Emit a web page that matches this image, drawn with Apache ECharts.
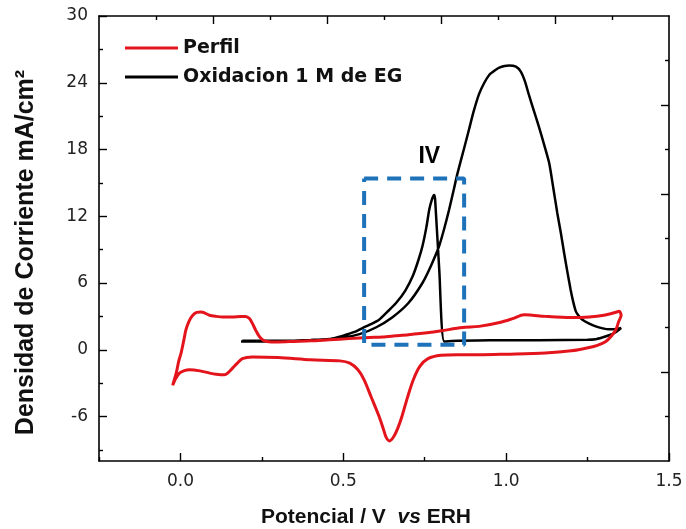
<!DOCTYPE html>
<html>
<head>
<meta charset="utf-8">
<script src="https://cdn.jsdelivr.net/npm/echarts@6/dist/echarts.min.js"></script>
<style>html,body{margin:0;padding:0;background:#fff;}#c{width:686px;height:529px;}</style>
</head>
<body>
<div id="c"></div>
<script>
// ---- data ----
const seriesNames = ['Perfil', 'Oxidacion 1 M de EG'];
const perfil = [
  [-0.024,-3.2],[-0.013,-2.1],[-0.005,-1.0],[0.002,-0.3],[0.01,0.8],[0.017,1.8],[0.027,2.6],[0.038,3.1],
  [0.05,3.35],[0.063,3.4],[0.075,3.3],[0.089,3.1],[0.11,3.0],[0.13,2.95],[0.16,2.95],[0.185,3.0],[0.2,3.0],
  [0.212,2.8],[0.222,2.3],[0.232,1.7],[0.242,1.2],[0.252,0.9],[0.265,0.75],[0.3,0.7],[0.35,0.75],[0.4,0.8],
  [0.457,0.9],[0.518,1.0],[0.58,1.1],[0.62,1.15],[0.66,1.25],[0.7,1.35],[0.764,1.55],[0.8,1.7],[0.866,2.0],
  [0.917,2.1],[0.98,2.45],[1.02,2.8],[1.055,3.15],[1.08,3.1],[1.12,3.0],[1.2,2.9],[1.255,2.95],[1.3,3.1],
  [1.335,3.35],[1.347,3.45],[1.353,3.1],[1.345,2.5],[1.337,1.8],[1.322,1.2],[1.306,0.75],[1.28,0.4],
  [1.255,0.2],[1.2,-0.1],[1.12,-0.3],[1.0,-0.4],[0.917,-0.45],[0.85,-0.45],[0.8,-0.5],[0.76,-0.8],
  [0.735,-1.5],[0.715,-2.7],[0.697,-4.3],[0.68,-6.0],[0.668,-7.0],[0.655,-7.8],[0.642,-8.2],[0.632,-7.9],
  [0.625,-7.3],[0.61,-6.0],[0.585,-4.2],[0.564,-2.7],[0.545,-1.8],[0.52,-1.2],[0.49,-1.0],[0.4,-0.9],
  [0.3,-0.7],[0.22,-0.65],[0.19,-0.8],[0.175,-1.2],[0.16,-1.65],[0.145,-2.1],[0.135,-2.25],[0.11,-2.2],
  [0.09,-2.1],[0.06,-1.9],[0.028,-1.8],[0.01,-1.9],[-0.003,-2.1],[-0.015,-2.6],[-0.024,-3.2]
];
const oxidacion = [
  [0.186,0.75],[0.25,0.75],[0.3,0.78],[0.35,0.82],[0.4,0.88],[0.45,0.95],[0.5,1.1],[0.55,1.4],[0.6,2.0],
  [0.65,2.9],[0.7,4.2],[0.743,6.0],[0.77,7.6],[0.794,9.3],[0.81,10.9],[0.825,12.6],[0.84,14.5],[0.851,15.9],
  [0.87,18.0],[0.886,19.8],[0.9,21.4],[0.917,23.0],[0.933,24.0],[0.948,24.7],[0.965,25.1],[0.979,25.35],
  [0.995,25.5],[1.009,25.55],[1.03,25.45],[1.045,25.0],[1.058,24.1],[1.07,22.9],[1.085,21.5],[1.1,20.1],
  [1.115,18.6],[1.132,16.8],[1.145,14.5],[1.157,12.3],[1.168,10.5],[1.178,8.7],[1.188,7.0],[1.198,5.4],
  [1.206,4.3],[1.214,3.45],[1.224,3.0],[1.234,2.7],[1.255,2.35],[1.275,2.1],[1.3,1.9],[1.316,1.85],
  [1.335,1.85],[1.353,1.95],[1.335,1.55],[1.316,1.3],[1.295,1.1],[1.275,0.95],[1.25,0.9],[1.1,0.85],
  [0.95,0.85],[0.85,0.8],[0.81,0.75],[0.795,7.0],[0.782,13.5],[0.779,13.9],[0.772,13.5],[0.764,12.6],
  [0.755,11.0],[0.743,9.3],[0.73,8.0],[0.713,6.6],[0.69,5.3],[0.662,4.2],[0.635,3.4],[0.61,2.7],
  [0.585,2.3],[0.559,1.95],[0.535,1.6],[0.508,1.35],[0.48,1.1],[0.457,0.95],[0.4,0.85],[0.3,0.8],[0.19,0.8]
];
const boxCorners = [[0.564,15.4],[0.871,15.4],[0.871,0.45],[0.564,0.45],[0.564,15.4]];
const boxLabel = [[0.764,17.4]];
const xRange = [-0.25, 1.5];
const yRange = [-10, 30];
const xMajor = [0, 0.5, 1.0, 1.5];
const xMinor = [-0.25, 0.25, 0.75, 1.25];
const yMajor = [-6, 0, 6, 12, 18, 24, 30];
const yMinor = [-9, -3, 3, 9, 15, 21, 27];
const topMajor = [0.1, 0.45, 0.8, 1.15];
const topMinor = [-0.075, 0.275, 0.625, 0.975, 1.325];
const rightMajor = [-2, 6, 14, 22];
const rightMinor = [-6, 2, 10, 18, 26];

// ---- chart ----
const FONT = '"Liberation Sans", Arial, sans-serif';
const WIDE = '"DejaVu Sans", sans-serif';
const gridRect = {left: 99, right: 17, top: 16, bottom: 68, outerBoundsMode: 'none', containLabel: false};
const lineAx = {show: true, onZero: false, lineStyle: {color: '#000', width: 1.6}};
const noLine = {show: false, onZero: false};
function xAx(gi, pos, ticks, len, labels, showLine) {
  return {
    type: 'value', gridIndex: gi, position: pos, min: xRange[0], max: xRange[1],
    axisLine: showLine ? lineAx : noLine,
    axisTick: {show: true, inside: true, length: len, customValues: ticks, lineStyle: {color: '#000', width: 1.4}},
    axisLabel: labels ? {show: true, customValues: labels, formatter: v => v.toFixed(1), color: '#222',
      fontSize: 17, fontFamily: WIDE, margin: 12} : {show: false},
    splitLine: {show: false}
  };
}
function yAx(gi, pos, ticks, len, labels, showLine) {
  return {
    type: 'value', gridIndex: gi, position: pos, min: yRange[0], max: yRange[1],
    axisLine: showLine ? lineAx : noLine,
    axisTick: {show: true, inside: true, length: len, customValues: ticks, lineStyle: {color: '#000', width: 1.4}},
    axisLabel: labels ? {show: true, customValues: labels, color: '#222', fontSize: 17, fontFamily: WIDE, margin: 11} : {show: false},
    splitLine: {show: false}
  };
}
const xMain = xAx(0, 'bottom', xMajor, 8, xMajor, true);
xMain.name = '{b|Potencial / V  }{i|vs}{b| ERH}';
xMain.nameLocation = 'middle';
xMain.nameGap = 46;
xMain.nameTextStyle = {padding: [0, 36, 0, 0], rich: {
  b: {fontSize: 21, fontWeight: 'bold', fontFamily: FONT, color: '#111'},
  i: {fontSize: 21, fontWeight: 'bold', fontStyle: 'italic', fontFamily: FONT, color: '#111'}
}};
const yMain = yAx(0, 'left', yMajor, 8, yMajor, true);
yMain.name = 'Densidad de Corriente mA/cm²';
yMain.nameLocation = 'middle';
yMain.nameGap = 60;
yMain.nameTextStyle = {fontSize: 25, fontWeight: 'bold', fontFamily: FONT, color: '#111', padding: [0, 28, 0, 0]};

const option = {
  animation: false,
  backgroundColor: '#fff',
  grid: [Object.assign({}, gridRect), Object.assign({}, gridRect)],
  xAxis: [
    xMain,
    xAx(0, 'top', topMajor, 8, null, true),
    xAx(1, 'bottom', xMinor, 4, null, false),
    xAx(1, 'top', topMinor, 4, null, false)
  ],
  yAxis: [
    yMain,
    yAx(0, 'right', rightMajor, 8, null, true),
    yAx(1, 'left', yMinor, 4, null, false),
    yAx(1, 'right', rightMinor, 4, null, false)
  ],
  legend: {
    data: seriesNames.map(n => ({name: n, icon: 'rect'})), orient: 'vertical', left: 125, top: 38, padding: 0,
    itemWidth: 53, itemHeight: 3, itemGap: 9,
    textStyle: {fontSize: 19, fontWeight: 'bold', fontFamily: WIDE, color: '#111', lineHeight: 20},
    selectedMode: false
  },
  series: [
    {name: seriesNames[0], type: 'line', xAxisIndex: 0, yAxisIndex: 0, data: perfil, showSymbol: false, symbol: 'none',
      smooth: 0.3, lineStyle: {color: '#e3141b', width: 3}, itemStyle: {color: '#e3141b'}, z: 3},
    {name: seriesNames[1], type: 'line', xAxisIndex: 0, yAxisIndex: 0, data: oxidacion, showSymbol: false, symbol: 'none',
      smooth: 0.2, lineStyle: {color: '#000', width: 2.5}, itemStyle: {color: '#000'}, z: 2},
    {name: 'box', type: 'line', xAxisIndex: 0, yAxisIndex: 0, data: boxCorners, symbol: 'none', silent: true,
      lineStyle: {color: '#1d72ba', width: 4, type: [14, 9]}, z: 4},
    {name: 'IV', type: 'scatter', xAxisIndex: 0, yAxisIndex: 0, data: boxLabel, symbolSize: 0, silent: true,
      itemStyle: {color: '#000'},
      label: {show: true, position: 'inside', formatter: 'IV', fontSize: 23, fontWeight: 'bold', fontFamily: FONT,
        color: '#000', textBorderWidth: 0, opacity: 1}}
  ]
};
const chart = echarts.init(document.getElementById('c'), null, {renderer: 'canvas'});
chart.setOption(option);
</script>
</body>
</html>
